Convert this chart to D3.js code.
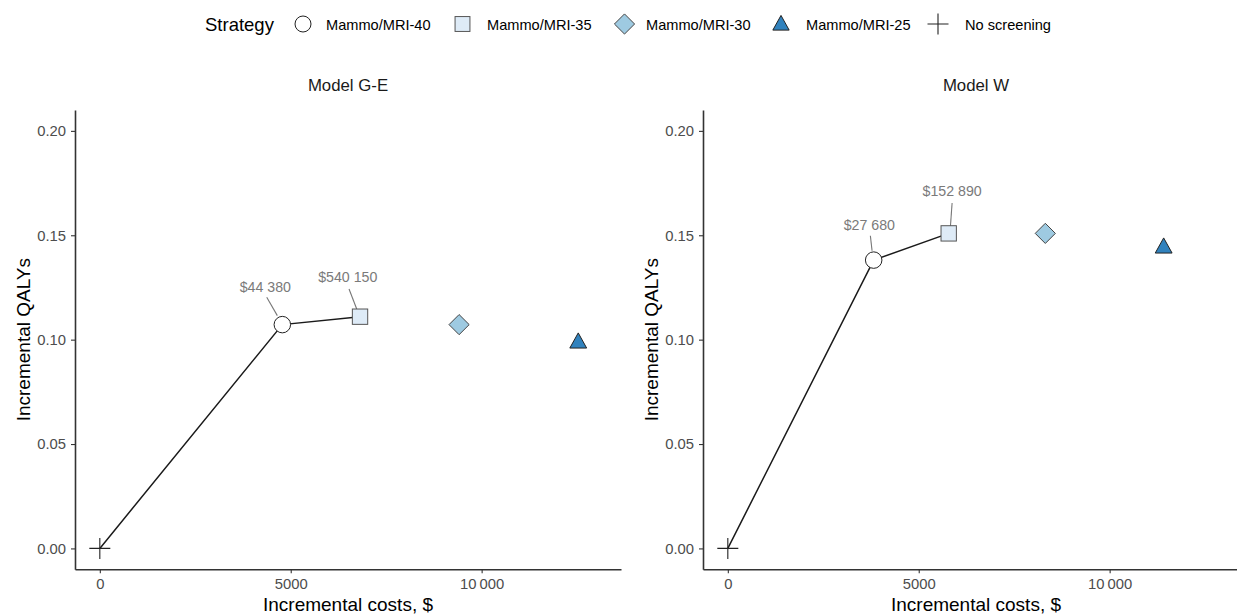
<!DOCTYPE html>
<html>
<head>
<meta charset="utf-8">
<script src="https://cdn.jsdelivr.net/npm/d3@7"></script>
<style>
  body { margin: 0; background: #fff; }
  svg { display: block; font-family: "Liberation Sans", Arial, sans-serif; }
</style>
</head>
<body>
<svg id="chart" width="1237" height="615"></svg>
<script>
// ---- Data ----
const strategies = ["Mammo/MRI-40", "Mammo/MRI-35", "Mammo/MRI-30", "Mammo/MRI-25", "No screening"];
const shapes = ["circle", "square", "diamond", "triangle", "plus"];
const fills = ["#ffffff", "#deebf7", "#9ecae1", "#3182bd", "none"];
const panels = ["Model G-E", "Model W"];

// incremental costs ($) per strategy, per panel
const costsGE = [4780, 6815, 9410, 12530, 0];
const qalysGE = [0.1072, 0.1110, 0.1072, 0.0990, 0];
const costsW = [3820, 5785, 8315, 11415, 0];
const qalysW = [0.1381, 0.1509, 0.1509, 0.1445, 0];

// efficiency frontier (indices into strategies)
const frontierGE = [4, 0, 1];
const frontierW = [4, 0, 1];

// ICER labels on frontier points
const icerGE = [{ i: 0, text: "$44 380" }, { i: 1, text: "$540 150" }];
const icerW = [{ i: 0, text: "$27 680" }, { i: 1, text: "$152 890" }];

const xTicks = [0, 5000, 10000];
const yTicks = [0, 0.05, 0.10, 0.15, 0.20];
const xDomain = [0, 13000];
const yDomain = [0, 0.20];

// ---- Layout ----
const svg = d3.select("#chart");
const panelLeft = [75, 703];
const panelWidth = 546;
const plotTop = 110, plotBottom = 569.3;

// label placement (pixel offsets from the labelled point): text anchor and leader line
const labelOffsets = [
  [ { tx: -17, ty: -33, x1: -5, y1: -9, x2: -15.6, y2: -27.3 },
    { tx: -12.3, ty: -34.5, x1: -3.3, y1: -7.7, x2: -11, y2: -27.7 } ],
  [ { tx: -4.3, ty: -30.3, x1: -1.6, y1: -9.3, x2: -3.3, y2: -24.3 },
    { tx: 3.4, ty: -37, x1: 1.7, y1: -6.7, x2: 3.4, y2: -30.4 } ]
];

function fmtX(v) {
  if (v >= 10000) return d3.format(",")(v).replace(",", "\u2009");
  return String(v);
}

function drawShape(g, shape, fill, size) {
  if (shape === "circle") {
    g.append("circle").attr("r", size * 0.5).attr("fill", fill).attr("stroke", "#222").attr("stroke-width", 1);
  } else if (shape === "square") {
    const s = size * 0.93;
    g.append("rect").attr("x", -s / 2).attr("y", -s / 2).attr("width", s).attr("height", s)
      .attr("fill", fill).attr("stroke", "#555").attr("stroke-width", 1);
  } else if (shape === "diamond") {
    const s = size * 0.36;
    g.append("path").attr("d", `M0,${-s} L${s},0 L0,${s} L${-s},0 Z`)
      .attr("fill", fill).attr("stroke", "#444").attr("stroke-width", 1);
  } else if (shape === "triangle") {
    const s = size * 0.51;
    g.append("path").attr("d", `M0,${-s * 1.05} L${s},${s * 0.75} L${-s},${s * 0.75} Z`)
      .attr("fill", fill).attr("stroke", "#222").attr("stroke-width", 1);
  } else if (shape === "plus") {
    const s = size * 0.35;
    g.append("path").attr("d", `M${-s},0 L${s},0 M0,${-s} L0,${s}`)
      .attr("stroke", "#222").attr("stroke-width", 1.1).attr("fill", "none");
  }
}

const panelData = [
  { costs: costsGE, qalys: qalysGE, frontier: frontierGE, icer: icerGE },
  { costs: costsW, qalys: qalysW, frontier: frontierW, icer: icerW }
];

panels.forEach((title, p) => {
  const x0 = panelLeft[p];
  const xPad = (xDomain[1] - xDomain[0]) * 0.05;
  const yPad = (yDomain[1] - yDomain[0]) * 0.05;
  const x = d3.scaleLinear().domain([xDomain[0] - xPad, xDomain[1] + xPad]).range([x0, x0 + panelWidth]);
  const y = d3.scaleLinear().domain([yDomain[0] - yPad, yDomain[1] + yPad]).range([plotBottom, plotTop]);
  const d = panelData[p];
  const g = svg.append("g");

  // axes
  const xAxis = g.append("g").attr("transform", `translate(0,${plotBottom})`)
    .call(d3.axisBottom(x).tickValues(xTicks).tickFormat(fmtX).tickSize(4).tickSizeOuter(0));
  const yAxis = g.append("g").attr("transform", `translate(${x0},0)`)
    .call(d3.axisLeft(y).tickValues(yTicks).tickFormat(d3.format(".2f")).tickSize(4).tickSizeOuter(0));
  [xAxis, yAxis].forEach(a => {
    a.select(".domain").attr("stroke", "#333").attr("stroke-width", 1.6);
    a.selectAll(".tick line").attr("stroke", "#333").attr("stroke-width", 1.1);
    a.selectAll(".tick text").attr("fill", "#4d4d4d").attr("font-size", 14.8)
      .attr("font-family", "Liberation Sans, Arial, sans-serif");
  });
  xAxis.selectAll(".tick text").attr("y", 9.5);
  yAxis.selectAll(".tick text").attr("x", -9);

  // titles
  g.append("text").attr("x", x0 + panelWidth / 2).attr("y", 91).attr("text-anchor", "middle")
    .attr("font-size", 16.8).attr("fill", "#1a1a1a").text(title);
  g.append("text").attr("x", x0 + panelWidth / 2).attr("y", 611).attr("text-anchor", "middle")
    .attr("font-size", 19).attr("fill", "#000").text("Incremental costs, $");
  g.append("text").attr("transform", `translate(${x0 - 45},${(plotTop + plotBottom) / 2}) rotate(-90)`)
    .attr("text-anchor", "middle").attr("font-size", 19).attr("fill", "#000").text("Incremental QALYs");

  // frontier line
  const line = d3.line().x(i => x(d.costs[i])).y(i => y(d.qalys[i]));
  g.append("path").attr("d", line(d.frontier)).attr("fill", "none").attr("stroke", "#1a1a1a").attr("stroke-width", 1.5);

  // ICER labels with leader lines
  d.icer.forEach((lab, k) => {
    const px = x(d.costs[lab.i]), py = y(d.qalys[lab.i]);
    const o = labelOffsets[p][k];
    g.append("line")
      .attr("x1", px + o.x1).attr("y1", py + o.y1)
      .attr("x2", px + o.x2).attr("y2", py + o.y2)
      .attr("stroke", "#777").attr("stroke-width", 1.1);
    g.append("text").attr("x", px + o.tx).attr("y", py + o.ty).attr("text-anchor", "middle")
      .attr("font-size", 14.2).attr("fill", "#7a7a7a").text(lab.text);
  });

  // points
  const order = [4, 0, 1, 2, 3];
  order.forEach(i => {
    const pg = g.append("g").attr("transform", `translate(${x(d.costs[i])},${y(d.qalys[i])})`);
    drawShape(pg, shapes[i], fills[i], i === 4 ? 30 : (i === 2 ? 28 : 16.5));
  });
});

// ---- Legend ----
const legend = svg.append("g");
legend.append("text").attr("x", 205).attr("y", 31).attr("font-size", 18.5).attr("fill", "#000").text("Strategy");
const legendSym = [303, 462.5, 624.5, 781, 938];
const legendTxt = [326, 487, 646, 806, 965];
strategies.forEach((s, i) => {
  const sg = legend.append("g").attr("transform", `translate(${legendSym[i]},24)`);
  drawShape(sg, shapes[i], fills[i], i === 4 ? 30 : (i === 2 ? 28 : 16));
  legend.append("text").attr("x", legendTxt[i]).attr("y", 29.5).attr("font-size", 14.6).attr("fill", "#000").text(s);
});
</script>
</body>
</html>
